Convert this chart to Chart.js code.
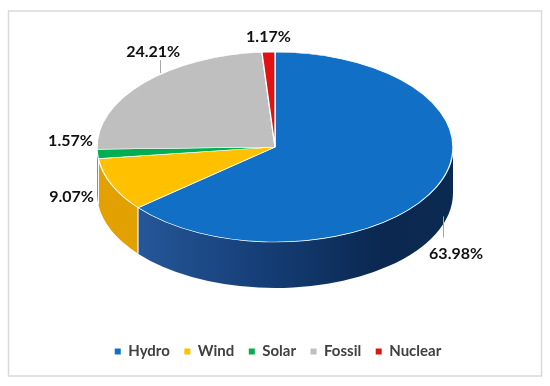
<!DOCTYPE html>
<html>
<head>
<meta charset="utf-8">
<script src="https://cdn.jsdelivr.net/npm/chart.js@4.4.1/dist/chart.umd.min.js"></script>
<style>
html, body { margin: 0; padding: 0; background: #fff; }
#wrap { width: 550px; height: 386px; }
</style>
</head>
<body>
<div id="wrap"><canvas id="energyChart" width="550" height="386"></canvas></div>
<script>
const categories = ['Hydro', 'Wind', 'Solar', 'Fossil', 'Nuclear'];
const shares = [63.98, 9.07, 1.57, 24.21, 1.17];
const shareLabels = ['63.98%', '9.07%', '1.57%', '24.21%', '1.17%'];

const topColors = ['#1170c6', '#ffc000', '#00b050', '#bfbfbf', '#e31212'];
const sideColors = [null, '#e2a100', '#00903f', '#9a9a9a', '#b00000'];

// where the tilted pie sits on the page
const pie3d = { cx: 275, cy: 147, rx: 178, ry: 95, depth: 46 };

// label nudges from the rim point at each slice's middle angle
const labelNudge = [[20, 66], [-40, 12], [-27, -13], [10, -31], [0, -15]];
// little grey leader lines: [x from label, y start, y end]
const leaders = [[-13, -37, -16], null, null, [7, 8, 21], null];

function sideFill(ctx, i) {
    if (i !== 0) return sideColors[i];
    const g = ctx.createLinearGradient(pie3d.cx - pie3d.rx, 0, pie3d.cx + pie3d.rx, 0);
    g.addColorStop(0, '#2b5fa3');
    g.addColorStop(0.45, '#163f78');
    g.addColorStop(0.8, '#0a2850');
    g.addColorStop(1, '#0b2a52');
    return g;
}

const tiltPlugin = {
    id: 'tilt',
    beforeDraw(chart) {
        const ctx = chart.ctx;
        ctx.save();
        ctx.strokeStyle = '#d9d9d9';
        ctx.lineWidth = 1.5;
        ctx.strokeRect(8.5, 11, 533, 365);
        ctx.restore();
    },
    beforeDatasetsDraw(chart) {
        const ctx = chart.ctx;
        const arcs = chart.getDatasetMeta(0).data;
        const { cx, cy, rx, ry, depth } = pie3d;

        // the visible rim (front half) of every slice
        ctx.save();
        arcs.forEach((arc, i) => {
            const a = Math.max(arc.startAngle, 0);
            const b = Math.min(arc.endAngle, Math.PI);
            if (b <= a) return;
            ctx.beginPath();
            ctx.ellipse(cx, cy, rx, ry, 0, a, b);
            ctx.ellipse(cx, cy + depth, rx, ry, 0, b, a, true);
            ctx.closePath();
            ctx.fillStyle = sideFill(ctx, i);
            ctx.fill();
        });
        // seams between slices on the rim
        ctx.strokeStyle = '#ffffff';
        ctx.lineWidth = 1.2;
        arcs.forEach(arc => {
            const t = arc.startAngle;
            if (t > 0.05 && t < Math.PI - 0.05) {
                const x = cx + rx * Math.cos(t);
                const y = cy + ry * Math.sin(t);
                ctx.beginPath();
                ctx.moveTo(x, y);
                ctx.lineTo(x, y + depth);
                ctx.stroke();
            }
        });
        ctx.restore();

        // squash the flat pie into the tilted top face
        const a0 = arcs[0];
        ctx.save();
        ctx.translate(cx, cy);
        ctx.scale(rx / a0.outerRadius, ry / a0.outerRadius);
        ctx.translate(-a0.x, -a0.y);
    },
    afterDatasetsDraw(chart) {
        const ctx = chart.ctx;
        ctx.restore();

        const arcs = chart.getDatasetMeta(0).data;
        const { cx, cy, rx, ry } = pie3d;
        ctx.save();
        ctx.font = 'bold 16px Lato';
        ctx.textAlign = 'center';
        ctx.textBaseline = 'middle';
        arcs.forEach((arc, i) => {
            const mid = (arc.startAngle + arc.endAngle) / 2;
            const x = cx + rx * Math.cos(mid) + labelNudge[i][0];
            const y = cy + ry * Math.sin(mid) + labelNudge[i][1];
            const l = leaders[i];
            if (l) {
                ctx.strokeStyle = '#a6a6a6';
                ctx.lineWidth = 1;
                ctx.beginPath();
                ctx.moveTo(Math.round(x + l[0]) + 0.5, y + l[1]);
                ctx.lineTo(Math.round(x + l[0]) + 0.5, y + l[2]);
                ctx.stroke();
            }
            ctx.fillStyle = '#111111';
            ctx.fillText(shareLabels[i], x, y);
        });
        ctx.restore();
    }
};

new Chart(document.getElementById('energyChart'), {
    type: 'pie',
    data: {
        labels: categories,
        datasets: [{
            data: shares,
            backgroundColor: topColors,
            borderColor: '#ffffff',
            borderWidth: 1.2,
            clip: false
        }]
    },
    options: {
        responsive: false,
        animation: false,
        layout: { padding: { left: 6, right: 0, top: 0, bottom: 17 } },
        plugins: {
            tooltip: { enabled: false },
            legend: {
                position: 'bottom',
                labels: {
                    usePointStyle: true,
                    pointStyle: 'rect',
                    boxWidth: 6,
                    boxHeight: 6,
                    padding: 14.5,
                    color: '#404040',
                    font: { family: 'Lato', size: 15, weight: 'bold' },
                    generateLabels(chart) {
                        const items = Chart.overrides.doughnut.plugins.legend.labels.generateLabels(chart);
                        return items.map(it => Object.assign(it, { lineWidth: 0, strokeStyle: it.fillStyle }));
                    }
                }
            }
        }
    },
    plugins: [tiltPlugin]
});
</script>
</body>
</html>
